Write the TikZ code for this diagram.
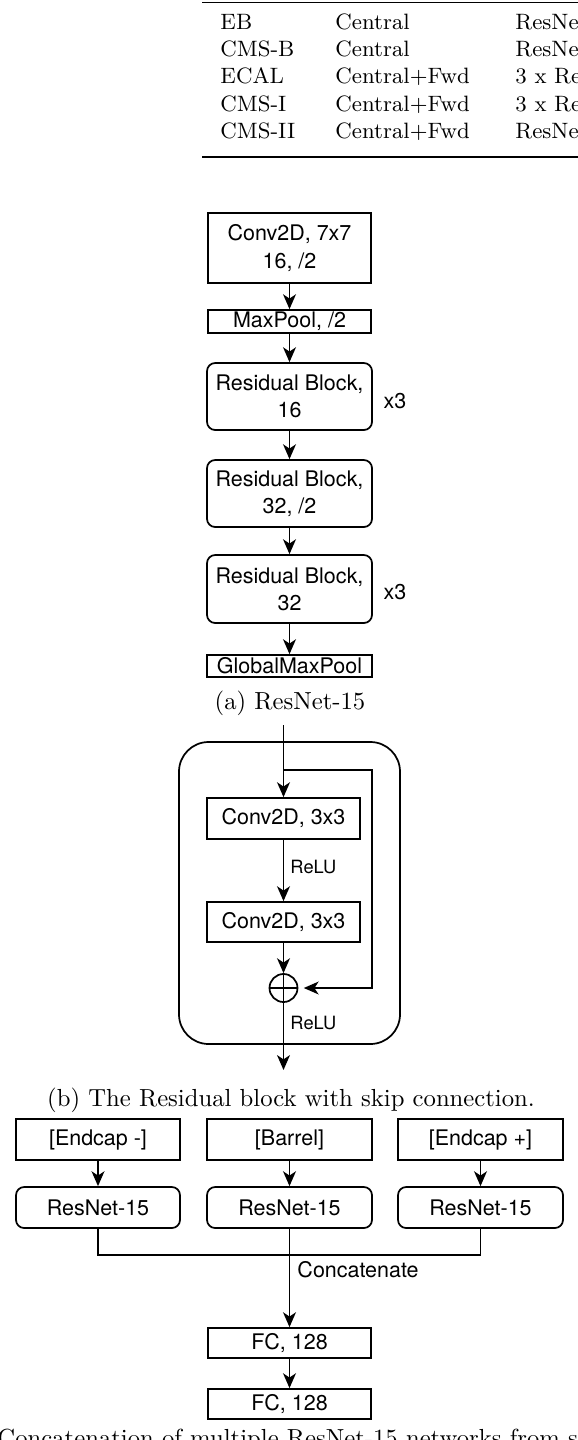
\documentclass[tikz,border=0pt]{standalone}
\usepackage{fontspec}
\newfontfamily\hv{TeX Gyre Heros}
\usetikzlibrary{arrows.meta}
\newlength\pxu
\setlength\pxu{0.405pt}
\begin{document}
\begin{tikzpicture}[x=0.405pt,y=-0.405pt,
 blk/.style={draw, line width=0.7pt, inner sep=0pt, align=center, font=\hv\fontsize{8.7}{11}\selectfont},
 rblk/.style={blk, rounded corners=3.3pt},
 arr/.style={line width=0.7pt, -{Stealth[length=6pt,width=5.2pt,inset=1.7pt]}},
 ln/.style={line width=0.7pt},
 lbl/.style={inner sep=0pt, font=\hv\fontsize{8.7}{11}\selectfont},
 smalllbl/.style={inner sep=0pt, anchor=west, font=\hv\fontsize{7.4}{9}\selectfont},
 captxt/.style={inner sep=0pt, font=\fontsize{10}{12}\selectfont},
 tabtxt/.style={inner sep=0pt, anchor=base west, font=\fontsize{9}{11}\selectfont},
 tabrule/.style={line width=0.75pt}]
\useasboundingbox (0,0) rectangle (578,1440);
\clip (0,0) rectangle (578,1440);

% ---------- table ----------
\coordinate (trl) at (202,2.5);
\coordinate (trr) at (580,2.5);
\coordinate (brl) at (202,157);
\coordinate (brr) at (580,157);
\draw[tabrule] (trl) -- (trr);
\draw[tabrule] (brl) -- (brr);
\node[tabtxt] (t11) at (220,29.5) {EB};
\node[tabtxt] (t12) at (335,29.5) {Central};
\node[tabtxt] (t13) at (515,29.5) {ResNe};
\node[tabtxt] (t21) at (220,56.7) {CMS-B};
\node[tabtxt] (t22) at (335,56.7) {Central};
\node[tabtxt] (t23) at (515,56.7) {ResNe};
\node[tabtxt] (t31) at (220,83.9) {ECAL};
\node[tabtxt] (t32) at (335,83.9) {Central+Fwd};
\node[tabtxt] (t33) at (515,83.9) {3 x Re};
\node[tabtxt] (t41) at (220,111.1) {CMS-I};
\node[tabtxt] (t42) at (335,111.1) {Central+Fwd};
\node[tabtxt] (t43) at (515,111.1) {3 x Re};
\node[tabtxt] (t51) at (220,138.3) {CMS-II};
\node[tabtxt] (t52) at (335,138.3) {Central+Fwd};
\node[tabtxt] (t53) at (515,138.3) {ResNe};

% ---------- (a) ResNet-15 ----------
\node[blk, minimum width=163\pxu, minimum height=70\pxu] (c7) at (289.5,248) {Conv2D, 7x7\\16, /2};
\node[blk, minimum width=163\pxu, minimum height=23\pxu] (mp) at (289.5,321.5) {MaxPool, /2};
\node[rblk, minimum width=165\pxu, minimum height=67\pxu] (rb1) at (289.5,396.5) {Residual Block,\\16};
\node[rblk, minimum width=165\pxu, minimum height=67\pxu] (rb2) at (289.5,493.5) {Residual Block,\\32, /2};
\node[rblk, minimum width=165\pxu, minimum height=68\pxu] (rb3) at (289.5,589) {Residual Block,\\32};
\node[blk, minimum width=165\pxu, minimum height=22\pxu] (gmp) at (289.5,666) {GlobalMaxPool};
\node[lbl] (x3a) at (395,401) {x3};
\node[lbl] (x3b) at (395,592) {x3};
\draw[arr] (c7) -- (mp);
\draw[arr] (mp) -- (rb1);
\draw[arr] (rb1) -- (rb2);
\draw[arr] (rb2) -- (rb3);
\draw[arr] (rb3) -- (gmp);
\node[captxt] (capa) at (290,703) {(a) ResNet-15};

% ---------- (b) residual block ----------
\draw[ln, rounded corners=12pt] (179,742) rectangle (400,1044);
\coordinate (inp) at (283.5,725);
\coordinate (sk) at (283.5,770);
\coordinate (skA) at (372,770);
\coordinate (skB) at (372,988);
\coordinate (out) at (283.5,1070);
\node[blk, minimum width=153\pxu, minimum height=41\pxu] (cv1) at (283.5,818.5) {Conv2D, 3x3};
\node[blk, minimum width=153\pxu, minimum height=40\pxu] (cv2) at (283.5,922) {Conv2D, 3x3};
\node[draw, circle, line width=0.7pt, minimum size=28\pxu, inner sep=0pt,
  path picture={\draw[line width=0.7pt] (path picture bounding box.north) -- (path picture bounding box.south)
   (path picture bounding box.west) -- (path picture bounding box.east);}] (sum) at (283.5,988) {};
\draw[arr] (inp) -- (cv1);
\draw[arr] (cv1) -- (cv2);
\draw[arr] (cv2) -- (sum);
\draw[arr] (sum) -- (out);
\draw[arr, shorten >=2.2pt] (sk) -- (skA) -- (skB) -- (sum);
\node[smalllbl] (relu1) at (290,867) {ReLU};
\node[smalllbl] (relu2) at (290,1023) {ReLU};
\node[captxt] (capb) at (291,1100) {(b) The Residual block with skip connection.};

% ---------- (c) concatenation ----------
\node[blk, minimum width=164\pxu, minimum height=41\pxu] (e1) at (98,1139.5) {[Endcap -]};
\node[blk, minimum width=165\pxu, minimum height=41\pxu] (br) at (289.5,1139.5) {[Barrel]};
\node[blk, minimum width=165\pxu, minimum height=41\pxu] (e2) at (480.5,1139.5) {[Endcap +]};
\node[rblk, minimum width=164\pxu, minimum height=41\pxu] (r1) at (98,1207.5) {ResNet-15};
\node[rblk, minimum width=165\pxu, minimum height=41\pxu] (r2) at (289.5,1207.5) {ResNet-15};
\node[rblk, minimum width=165\pxu, minimum height=41\pxu] (r3) at (480.5,1207.5) {ResNet-15};
\node[blk, minimum width=163\pxu, minimum height=30\pxu] (fc1) at (289.5,1343) {FC, 128};
\node[blk, minimum width=163\pxu, minimum height=30\pxu] (fc2) at (289.5,1404) {FC, 128};
\coordinate (jL) at (98,1255);
\coordinate (jR) at (480.5,1255);
\draw[arr] (e1) -- (r1);
\draw[arr] (br) -- (r2);
\draw[arr] (e2) -- (r3);
\draw[ln] (r1) -- (jL) -- (jR) -- (r3);
\draw[arr] (r2) -- (fc1);
\draw[arr] (fc1) -- (fc2);
\node[lbl, anchor=west] (concat) at (297,1270) {Concatenate};
\node[captxt, anchor=base west] (capc) at (-3,1446) {Concatenation of multiple ResNet-15 networks from s};
\end{tikzpicture}
\end{document}
